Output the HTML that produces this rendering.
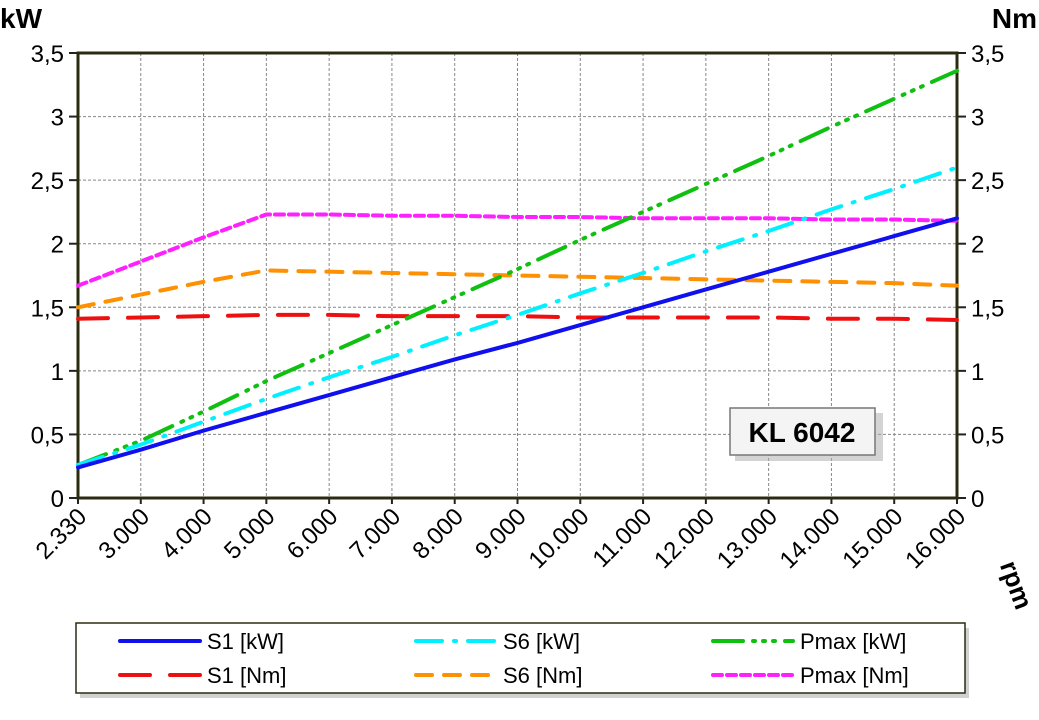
<!DOCTYPE html>
<html><head><meta charset="utf-8"><style>
body{margin:0;background:#fff;}
svg text{font-family:"Liberation Sans",sans-serif;}
</style></head><body>
<svg id="c" width="1039" height="715"></svg>
<script>
const categories=["2.330","3.000","4.000","5.000","6.000","7.000","8.000","9.000","10.000","11.000","12.000","13.000","14.000","15.000","16.000"];
const yTicks=[0,0.5,1,1.5,2,2.5,3,3.5];
const yTickLabels=["0","0,5","1","1,5","2","2,5","3","3,5"];
const s1kW=[0.24,0.38,0.53,0.67,0.81,0.95,1.09,1.22,1.36,1.50,1.64,1.78,1.92,2.06,2.20];
const s6kW=[0.26,0.42,0.60,0.78,0.95,1.11,1.28,1.44,1.61,1.77,1.94,2.10,2.27,2.43,2.60];
const pmaxkW=[0.26,0.45,0.68,0.92,1.14,1.36,1.58,1.80,2.03,2.25,2.47,2.69,2.92,3.14,3.36];
const s1Nm=[1.41,1.42,1.43,1.44,1.44,1.43,1.43,1.43,1.42,1.42,1.42,1.42,1.41,1.41,1.40];
const s6Nm=[1.50,1.60,1.70,1.79,1.78,1.77,1.76,1.75,1.74,1.73,1.72,1.71,1.70,1.69,1.67];
const pmaxNm=[1.67,1.86,2.05,2.23,2.23,2.22,2.22,2.21,2.21,2.20,2.20,2.20,2.19,2.19,2.18];
const NS="http://www.w3.org/2000/svg";
const svg=document.getElementById('c');
const L=78,R=957,T=53,B=498;
const x=i=>L+(R-L)*i/(categories.length-1);
const y=v=>B-(B-T)*v/3.5;
function mk(tag,a,parent){const e=document.createElementNS(NS,tag);for(const k in a)e.setAttribute(k,a[k]);(parent||svg).appendChild(e);return e;}
categories.forEach((c,i)=>{if(i>0&&i<categories.length-1){const g=mk('line',{x1:x(i),x2:x(i),y1:T,y2:B,stroke:'#888','stroke-dasharray':'3,2','stroke-width':1});

}
const tk=mk('line',{x1:x(i),x2:x(i),y1:B,y2:B+6,stroke:'#222','stroke-width':2});


const ax=x(i)+10,ay=B+20;
const t=mk('text',{x:ax,y:ay,'text-anchor':'end','font-size':24,transform:`rotate(-45 ${ax} ${ay})`});
t.textContent=c;

});
yTicks.forEach((v,i)=>{if(v>0&&v<3.5){const g=mk('line',{x1:L,x2:R,y1:y(v),y2:y(v),stroke:'#888','stroke-dasharray':'3,2','stroke-width':1});

}
[[L-9,L],[R,R+9]].forEach(p=>{const tk=mk('line',{x1:p[0],x2:p[1],y1:y(v),y2:y(v),stroke:'#222','stroke-width':2});

});
const t=mk('text',{x:L-14,y:y(v)+9,'text-anchor':'end','font-size':24});t.textContent=yTickLabels[i];


const t2=mk('text',{x:R+14,y:y(v)+9,'text-anchor':'start','font-size':24});t2.textContent=yTickLabels[i];

});
const frame=mk('rect',{x:L,y:T,width:R-L,height:B-T,fill:'none',stroke:'#2b2b10','stroke-width':3});


const series=[
 {d:s1kW,c:'#1010ee',da:'',n:'S1 [kW]'},
 {d:s6kW,c:'#00f0ff',da:'26,12,2,12',n:'S6 [kW]'},
 {d:pmaxkW,c:'#10c010',da:'30,10,2,8,2,8,2,10',n:'Pmax [kW]'},
 {d:s1Nm,c:'#ee1010',da:'30,20',n:'S1 [Nm]'},
 {d:s6Nm,c:'#ff9000',da:'16,12',n:'S6 [Nm]'},
 {d:pmaxNm,c:'#ff20ff',da:'9,5',n:'Pmax [Nm]'}];
series.slice().reverse().forEach(s=>{const p=mk('polyline',{points:s.d.map((v,i)=>x(i)+','+y(v)).join(' '),fill:'none',stroke:s.c,'stroke-width':4,'stroke-dasharray':s.da,'stroke-linecap':'round'});

});
[['kW',0,28,'start','y-left-title'],['Nm',1037,28,'end','y-right-title']].forEach(a=>{const t=mk('text',{x:a[1],y:a[2],'text-anchor':a[3],'font-size':28,'font-weight':'bold'});t.textContent=a[0];

});
const rp=mk('text',{x:1008,y:588,'font-size':26,'font-weight':'bold',transform:'rotate(70 1008 588)','text-anchor':'middle'});rp.textContent='rpm';


const sh=mk('rect',{x:735,y:413,width:148,height:48,fill:'#aaa',opacity:0.5});


const lb=mk('rect',{x:730,y:408,width:145,height:47,fill:'#f4f4f4',stroke:'#777','stroke-width':1.5});


const lt=mk('text',{x:802,y:442,'text-anchor':'middle','font-size':28,'font-weight':'bold'});lt.textContent='KL 6042';


const lsh=mk('rect',{x:80,y:628,width:889,height:70,fill:'#999',opacity:0.45});


const lg=mk('rect',{x:76,y:623,width:889,height:70,fill:'#fff',stroke:'#2b2b10','stroke-width':1.5});


const cols=[120,416,713];
series.forEach((s,i)=>{const cx=cols[i%3],cy=i<3?641:675;
const ln=mk('line',{x1:cx,x2:cx+80,y1:cy,y2:cy,stroke:s.c,'stroke-width':4,'stroke-dasharray':s.da,'stroke-linecap':'round'});


const t=mk('text',{x:cx+87,y:cy+8,'font-size':22});t.textContent=s.n;

});
</script>
</body></html>
